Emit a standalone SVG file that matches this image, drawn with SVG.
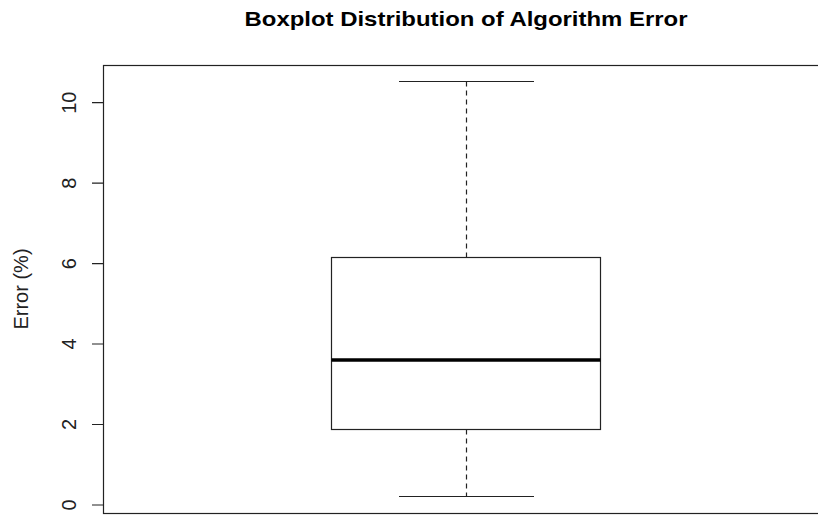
<svg xmlns="http://www.w3.org/2000/svg" width="818" height="515" viewBox="0 0 818 515">
  <style>
    .ln { stroke: #222; stroke-width: 1.2; fill: none; }
    .tk { font-family: "Liberation Sans", Arial, sans-serif; font-size: 20px; fill: #222; text-anchor: middle; }
  </style>
  <rect width="818" height="515" fill="#fff"/>

  <!-- title -->
  <text id="title" x="466" y="26" font-family="Liberation Sans, Arial, sans-serif" font-weight="bold" font-size="21" text-anchor="middle" textLength="443" lengthAdjust="spacingAndGlyphs" fill="#000">Boxplot Distribution of Algorithm Error</text>

  <!-- plot frame -->
  <rect id="frame" class="ln" x="103.5" y="65.5" width="730" height="448"/>

  <!-- y axis -->
  <g id="y-axis">
    <path class="ln" d="M92 102.7H103.5M92 183.2H103.5M92 263.6H103.5M92 344H103.5M92 424.5H103.5M92 505H103.5"/>
    <text class="tk" transform="translate(76,102.7) rotate(-90)">10</text>
    <text class="tk" transform="translate(76,183.2) rotate(-90)">8</text>
    <text class="tk" transform="translate(76,263.6) rotate(-90)">6</text>
    <text class="tk" transform="translate(76,344) rotate(-90)">4</text>
    <text class="tk" transform="translate(76,424.5) rotate(-90)">2</text>
    <text class="tk" transform="translate(76,505) rotate(-90)">0</text>
    <text class="tk" font-size="19" transform="translate(28,289) rotate(-90)">Error (%)</text>
  </g>

  <!-- box and whiskers -->
  <g id="boxplot">
    <path class="ln" d="M466.5 81.5V257.5M466.5 429.5V496.5" stroke-dasharray="5,4"/>
    <path class="ln" d="M399 81.5H534M399 496.5H534"/>
    <rect class="ln" x="331.5" y="257.5" width="269" height="172" fill="#fff"/>
    <path d="M331.5 360H600.5" stroke="#000" stroke-width="3.5"/>
  </g>
</svg>
